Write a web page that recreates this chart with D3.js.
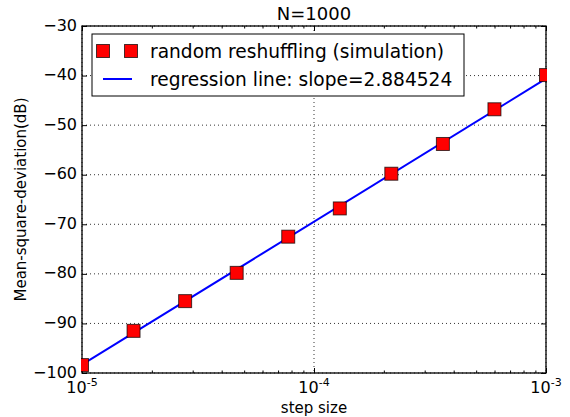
<!DOCTYPE html>
<html>
<head>
<meta charset="utf-8">
<script src="https://cdn.jsdelivr.net/npm/d3@7"></script>
<style>
  body { margin: 0; background: #fff; }
  text { font-family: "DejaVu Sans", sans-serif; fill: #000; }
</style>
</head>
<body>
<div id="chart"></div>
<script>
// data
var stepSizes = [1e-5, 1.668e-5, 2.783e-5, 4.642e-5, 7.743e-5, 1.292e-4, 2.154e-4, 3.594e-4, 5.995e-4, 1e-3];
var msdValues = [-98.4, -91.5, -85.5, -79.8, -72.5, -66.8, -59.8, -53.8, -46.8, -39.9];
var regSlope = 2.884524;      // slope of log10(msd) against log10(step)
var regIntercept = 4.590;     // in the same units, dB = 10 * (...)
var yTicks = [-100, -90, -80, -70, -60, -50, -40, -30];
var xTicks = [1e-5, 1e-4, 1e-3];
var xTickExp = ["-5", "-4", "-3"];
var legendLabels = ["random reshuffling (simulation)", "regression line: slope=2.884524"];

var W = 570, H = 417;
var margin = {top: 26, right: 24, bottom: 44, left: 82},
  ancho = W - margin.left - margin.right,
  altura = H - margin.top - margin.bottom;

var svg = d3.select("#chart").append("svg")
  .attr("width", W).attr("height", H);
var g = svg.append("g")
  .attr("transform", "translate(" + margin.left + "," + margin.top + ")");

var x = d3.scaleLog().domain([1e-5, 1e-3]).range([0, ancho]);
var y = d3.scaleLinear().domain([-100, -30]).range([altura, 0]);

// grid lines (dotted)
g.selectAll(".gx").data(xTicks).enter().append("line")
  .attr("x1", d => x(d)).attr("x2", d => x(d))
  .attr("y1", 0).attr("y2", altura)
  .attr("stroke", "#000").attr("stroke-width", 0.8).attr("stroke-dasharray", "1,3");
g.selectAll(".gy").data(yTicks).enter().append("line")
  .attr("x1", 0).attr("x2", ancho)
  .attr("y1", d => y(d)).attr("y2", d => y(d))
  .attr("stroke", "#000").attr("stroke-width", 0.8).attr("stroke-dasharray", "1,3");

// minor x ticks
var minor = [];
[1e-5, 1e-4].forEach(function(dec) {
  for (var k = 2; k <= 9; k++) minor.push(dec * k);
});

// axes with inward ticks, both sides
var axB = g.append("g").attr("transform", "translate(0," + altura + ")")
  .call(d3.axisBottom(x).tickValues(minor).tickSize(-2.5).tickFormat(""));
var axB2 = g.append("g").attr("transform", "translate(0," + altura + ")")
  .call(d3.axisBottom(x).tickValues(xTicks).tickSize(-5).tickFormat(""));
var axT = g.append("g")
  .call(d3.axisTop(x).tickValues(minor).tickSize(-2.5).tickFormat(""));
var axT2 = g.append("g")
  .call(d3.axisTop(x).tickValues(xTicks).tickSize(-5).tickFormat(""));
var axL = g.append("g")
  .call(d3.axisLeft(y).tickValues(yTicks).tickSize(-5).tickFormat(""));
var axR = g.append("g").attr("transform", "translate(" + ancho + ",0)")
  .call(d3.axisRight(y).tickValues(yTicks).tickSize(-5).tickFormat(""));
[axB, axB2, axT, axT2, axL, axR].forEach(function(a) {
  a.select(".domain").remove();
  a.selectAll("line").attr("stroke", "#000").attr("stroke-width", 1);
});

// tick labels
g.selectAll(".ylab").data(yTicks).enter().append("text")
  .attr("x", -5).attr("y", d => y(d) - 1)
  .attr("text-anchor", "end").attr("dominant-baseline", "central")
  .style("font-size", "16px")
  .text(d => d3.format("")(d).replace("-", "\u2212"));

var xl = g.selectAll(".xlab").data(xTicks).enter().append("text")
  .attr("x", d => x(d)).attr("y", altura + 20)
  .attr("text-anchor", "middle")
  .style("font-size", "16px");
xl.append("tspan").text("10");
xl.append("tspan").attr("dy", -7).style("font-size", "11px")
  .text((d, i) => xTickExp[i]);

// frame
g.append("rect").attr("width", ancho).attr("height", altura)
  .attr("fill", "none").attr("stroke", "#000").attr("stroke-width", 1.3);

// regression line
var regDb = function(s) { return 10 * (regSlope * Math.log10(s) + regIntercept); };
g.append("line")
  .attr("x1", x(1e-5)).attr("y1", y(regDb(1e-5)))
  .attr("x2", x(1e-3)).attr("y2", y(regDb(1e-3)))
  .attr("stroke", "#0000ff").attr("stroke-width", 2);

// simulation markers
var ms = 13;
var clip = g.append("clipPath").attr("id", "clip").append("rect")
  .attr("x", -1).attr("y", -1).attr("width", ancho + 2).attr("height", altura + 2);
g.append("g").attr("clip-path", "url(#clip)")
  .selectAll("rect").data(stepSizes).enter().append("rect")
  .attr("x", d => x(d) - ms / 2)
  .attr("y", (d, i) => y(msdValues[i]) - ms / 2)
  .attr("width", ms).attr("height", ms)
  .attr("fill", "#ff0000").attr("stroke", "#000").attr("stroke-width", 1)
  .attr("stroke-opacity", 0.7);

// legend
var lg = g.append("g").attr("transform", "translate(10,8)");
lg.append("rect").attr("width", 372).attr("height", 62)
  .attr("fill", "#fff").attr("stroke", "#000").attr("stroke-width", 1);
[11, 39].forEach(function(cx) {
  lg.append("rect").attr("x", cx - 6.5).attr("y", 17 - 6.5)
    .attr("width", 13).attr("height", 13)
    .attr("fill", "#ff0000").attr("stroke", "#000").attr("stroke-opacity", 0.7);
});
lg.append("line").attr("x1", 11).attr("x2", 40).attr("y1", 45).attr("y2", 45)
  .attr("stroke", "#0000ff").attr("stroke-width", 2);
lg.selectAll(".lt").data(legendLabels).enter().append("text")
  .attr("x", 58).attr("y", (d, i) => 17 + i * 28)
  .attr("dominant-baseline", "central")
  .style("font-size", "18.6px")
  .text(d => d);

// title and axis labels
svg.append("text").attr("x", margin.left + ancho / 2).attr("y", 20)
  .attr("text-anchor", "middle").style("font-size", "18px").text("N=1000");
svg.append("text").attr("x", margin.left + ancho / 2).attr("y", 413)
  .attr("text-anchor", "middle").style("font-size", "15px").text("step size");
svg.append("text")
  .attr("transform", "translate(26," + (margin.top + altura / 2) + ") rotate(-90)")
  .attr("text-anchor", "middle").style("font-size", "15px")
  .text("Mean-square-deviation(dB)");
</script>
</body>
</html>
